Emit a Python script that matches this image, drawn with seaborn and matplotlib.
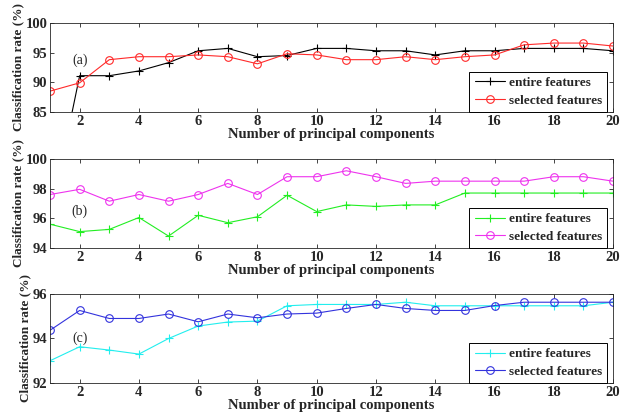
import matplotlib
matplotlib.use("Agg")
import matplotlib.pyplot as plt
import numpy as np
import pandas as pd
import seaborn as sns

components = list(range(1, 21))

entire_a = [67.0, 91.1, 91.1, 91.9, 93.3, 95.3, 95.7, 94.3, 94.5, 95.7,
            95.7, 95.3, 95.3, 94.6, 95.3, 95.3, 95.7, 95.7, 95.7, 95.3]
selected_a = [88.5, 89.9, 93.8, 94.3, 94.3, 94.6, 94.3, 93.1, 94.8, 94.6,
              93.8, 93.8, 94.3, 93.8, 94.3, 94.6, 96.3, 96.6, 96.6, 96.1]

entire_b = [95.6, 95.1, 95.25, 96.05, 94.8, 96.2, 95.7, 96.1, 97.55, 96.45,
            96.9, 96.8, 96.9, 96.9, 97.7, 97.7, 97.7, 97.7, 97.7, 97.7]
selected_b = [97.6, 97.95, 97.15, 97.6, 97.15, 97.6, 98.35, 97.6, 98.8, 98.8,
              99.2, 98.8, 98.35, 98.5, 98.5, 98.5, 98.5, 98.8, 98.8, 98.5]

entire_c = [93.0, 93.63, 93.48, 93.3, 94.0, 94.56, 94.74, 94.78, 95.47, 95.53,
            95.53, 95.53, 95.63, 95.47, 95.47, 95.47, 95.47, 95.47, 95.47, 95.63]
selected_c = [94.37, 95.26, 94.9, 94.9, 95.1, 94.75, 95.1, 94.93, 95.1, 95.14,
              95.35, 95.53, 95.35, 95.26, 95.26, 95.48, 95.63, 95.63, 95.63, 95.63]

panel_labels = ["(a)", "(b)", "(c)"]
y_limits = [(85, 100), (94, 100), (92, 96)]
y_ticks = [[85, 90, 95, 100], [94, 96, 98, 100], [92, 94, 96]]
label_y = [93.7, 96.5, 94.0]
entire_colors = ["black", "#22ee22", "#22eeee"]
selected_colors = ["#ff2a2a", "#ee33ee", "#3333dd"]

sns.set_style("ticks")
plt.rcParams["font.family"] = ["Liberation Serif", "DejaVu Serif"]

fig = plt.figure(figsize=(6.23, 4.16), dpi=100)
bottoms = [0.731, 0.404, 0.0793]
series = [(entire_a, selected_a), (entire_b, selected_b), (entire_c, selected_c)]

for i, (entire, selected) in enumerate(series):
    ax = fig.add_axes([0.0803, bottoms[i], 0.9037, 0.214])
    df = pd.DataFrame({
        "components": components * 2,
        "rate": entire + selected,
        "kind": ["entire features"] * 20 + ["selected features"] * 20,
    })
    sns.lineplot(data=df[df.kind == "entire features"], x="components", y="rate",
                 color=entire_colors[i], marker="+", markersize=6, mew=0.8,
                 mec=entire_colors[i], linewidth=0.8, label="entire features", ax=ax)
    sns.lineplot(data=df[df.kind == "selected features"], x="components", y="rate",
                 color=selected_colors[i], marker="o", markersize=5.5, mfc="none",
                 mec=selected_colors[i], mew=0.8, linewidth=0.8,
                 label="selected features", ax=ax)
    ax.set_xlim(1, 20)
    ax.set_ylim(*y_limits[i])
    ax.set_xticks(range(2, 21, 2))
    ax.set_yticks(y_ticks[i])
    ax.tick_params(direction="in", top=True, right=True, length=3, labelsize=10.5,
                   width=0.6, pad=2)
    for lab in ax.get_xticklabels() + ax.get_yticklabels():
        lab.set_fontweight("bold")
    for sp in ax.spines.values():
        sp.set_linewidth(0.6)
    ax.set_xlabel("Number of principal components", fontsize=10.5, fontweight="bold", labelpad=0)
    ax.set_ylabel("Classification rate (%)", fontsize=9.5, fontweight="bold", labelpad=1)
    ax.text(2.0, label_y[i], panel_labels[i], fontsize=10, ha="center", va="center")
    leg = ax.legend(loc="lower right", bbox_to_anchor=(0.99, 0.0), fancybox=False,
                    framealpha=1, edgecolor="black", borderaxespad=0, fontsize=9.5,
                    handlelength=2.3, handletextpad=0.3, borderpad=0.4, labelspacing=0.4)
    leg.get_frame().set_linewidth(0.7)
    for t in leg.get_texts():
        t.set_fontweight("bold")

fig.savefig("out.png", dpi=100)
